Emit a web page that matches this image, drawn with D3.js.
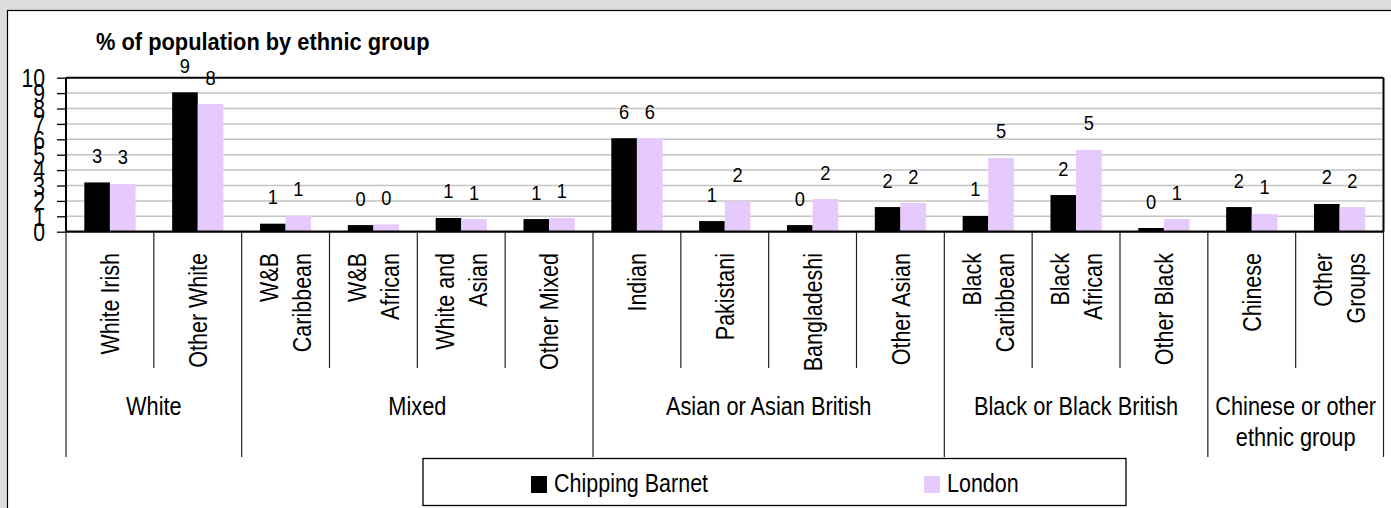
<!DOCTYPE html>
<html>
<head>
<meta charset="utf-8">
<script src="https://cdn.jsdelivr.net/npm/d3@7"></script>
<style>
  html, body { margin: 0; padding: 0; background: #dcdcdc; }
  svg { display: block; }
  text { font-family: "Liberation Sans", Arial, sans-serif; fill: #000; }
</style>
</head>
<body>
<svg id="chart" width="1391" height="508"></svg>
<script>
// ---- data ----
const categories = ["White Irish", "Other White", "W&B Caribbean", "W&B African", "White and Asian",
  "Other Mixed", "Indian", "Pakistani", "Bangladeshi", "Other Asian",
  "Black Caribbean", "Black African", "Other Black", "Chinese", "Other Groups"];
const categoryLines = [["White Irish"], ["Other White"], ["W&B", "Caribbean"], ["W&B", "African"], ["White and", "Asian"],
  ["Other Mixed"], ["Indian"], ["Pakistani"], ["Bangladeshi"], ["Other Asian"],
  ["Black", "Caribbean"], ["Black", "African"], ["Other Black"], ["Chinese"], ["Other", "Groups"]];
const groupNames = [["White"], ["Mixed"], ["Asian or Asian British"], ["Black or Black British"], ["Chinese or other", "ethnic group"]];
const groupSizes = [2, 4, 4, 3, 2];
const seriesNames = ["Chipping Barnet", "London"];
const chippingBarnet = [3.2, 9.05, 0.52, 0.43, 0.89, 0.82, 6.07, 0.69, 0.43, 1.6, 1.02, 2.38, 0.24, 1.6, 1.8];
const london = [3.1, 8.29, 1.02, 0.48, 0.82, 0.89, 6.07, 1.97, 2.12, 1.86, 4.79, 5.31, 0.82, 1.15, 1.6];
const yTicks = [0, 1, 2, 3, 4, 5, 6, 7, 8, 9, 10];
const titleText = "% of population by ethnic group";

const colors = ["#000000", "#e6c9fd"];
const seriesValues = [chippingBarnet, london];

// ---- layout ----
const SX = 0.87; // horizontal condensation of horizontal text
const RX = 1.22; // thickness stretch of rotated text
const svg = d3.select("#chart");
const plot = { left: 66, right: 1383.5, top: 77.7, bottom: 231.7 };

svg.append("rect").attr("x", 7.5).attr("y", 10.5).attr("width", 1400).attr("height", 520)
  .attr("fill", "#fff").attr("stroke", "#000").attr("stroke-width", 1.2);

const x0 = d3.scaleBand().domain(categories).range([plot.left, plot.right]).paddingInner(0).paddingOuter(0);
const x1 = d3.scaleBand().domain(seriesNames).range([0, x0.bandwidth()]).paddingInner(0).paddingOuter(0.715);
const y = d3.scaleLinear().domain([0, 10]).range([plot.bottom, plot.top]);

// gridlines
svg.append("g").selectAll("line").data(yTicks.filter(t => t > 0 && t < 10)).join("line")
  .attr("x1", plot.left).attr("x2", plot.right)
  .attr("y1", d => y(d)).attr("y2", d => y(d))
  .attr("stroke", "#c4c4c4").attr("stroke-width", 1.5);

// bars
const rows = categories.map((c, i) => ({ c, vals: seriesNames.map((s, j) => ({ s, j, v: seriesValues[j][i] })) }));
const gCat = svg.append("g").selectAll("g").data(rows).join("g")
  .attr("transform", d => `translate(${x0(d.c)},0)`);
gCat.selectAll("rect").data(d => d.vals).join("rect")
  .attr("x", d => x1(d.s)).attr("width", x1.bandwidth())
  .attr("y", d => y(d.v)).attr("height", d => y(0) - y(d.v))
  .attr("fill", d => colors[d.j]);
const fmt = d3.format(".0f");
gCat.selectAll("text").data(d => d.vals).join("text")
  .attr("transform", d => `translate(${x1(d.s) + x1.bandwidth() / 2},${y(d.v) - 19.5}) scale(${SX},1)`)
  .attr("text-anchor", "middle")
  .style("font-size", "21px")
  .text(d => fmt(d.v));

// plot frame: top + right
svg.append("line").attr("x1", plot.left).attr("x2", plot.right).attr("y1", plot.top).attr("y2", plot.top)
  .attr("stroke", "#000").attr("stroke-width", 2);
svg.append("line").attr("x1", plot.right).attr("x2", plot.right).attr("y1", plot.top).attr("y2", plot.bottom)
  .attr("stroke", "#000").attr("stroke-width", 2);

// y axis
const yAxis = d3.axisLeft(y).tickValues(yTicks).tickSize(9).tickPadding(12).tickFormat(d3.format("d"));
const gy = svg.append("g").attr("transform", `translate(${plot.left},0)`).call(yAxis);
gy.select(".domain").remove();
gy.selectAll(".tick line").attr("stroke", "#000").attr("stroke-width", 1.3);
gy.selectAll(".tick text").style("font-size", "25px").attr("font-family", null)
  .attr("x", -21 / 0.85).attr("dy", "0.35em").attr("transform", "scale(0.85,1)");
svg.append("line").attr("x1", plot.left).attr("x2", plot.left).attr("y1", plot.top).attr("y2", plot.bottom)
  .attr("stroke", "#000").attr("stroke-width", 2);

// x axis baseline
svg.append("line").attr("x1", plot.left).attr("x2", plot.right).attr("y1", plot.bottom).attr("y2", plot.bottom)
  .attr("stroke", "#000").attr("stroke-width", 2.2);

// category dividers
const bounds = categories.map(c => x0(c)).concat([plot.right]);
let groupStarts = [0];
groupSizes.forEach((n, i) => groupStarts.push(groupStarts[i] + n));
svg.append("g").selectAll("line").data(bounds.map((b, i) => ({ b, i }))).join("line")
  .attr("x1", d => d.b).attr("x2", d => d.b)
  .attr("y1", plot.bottom)
  .attr("y2", d => groupStarts.includes(d.i) ? 457 : 368)
  .attr("stroke", "#222").attr("stroke-width", 1.2);

// category labels (rotated)
const catLab = svg.append("g").selectAll("g").data(rows.map((r, i) => ({ c: r.c, lines: categoryLines[i] }))).join("g")
  .attr("transform", d => `translate(${x0(d.c) + x0.bandwidth() / 2},253)`);
catLab.each(function (d) {
  const n = d.lines.length;
  d3.select(this).selectAll("text").data(d.lines).join("text")
    .attr("transform", (l, k) => `translate(${(k - (n - 1) / 2) * 33},0) scale(${RX},1) rotate(-90)`)
    .attr("text-anchor", "end")
    .attr("dy", "0.35em")
    .style("font-size", "21.5px")
    .text(l => l);
});

// group labels
svg.append("g").selectAll("g").data(groupNames.map((g, i) => ({ g, i }))).join("g")
  .attr("transform", d => {
    const a = bounds[groupStarts[d.i]], b = bounds[groupStarts[d.i + 1]];
    return `translate(${(a + b) / 2},415)`;
  })
  .each(function (d) {
    d3.select(this).selectAll("text").data(d.g).join("text")
      .attr("transform", (l, k) => `translate(0,${k * 31}) scale(${SX},1)`)
      .attr("text-anchor", "middle")
      .style("font-size", "25px")
      .text(l => l);
  });

// title
svg.append("text").attr("transform", "translate(96,50) scale(0.91,1)")
  .style("font-size", "24px").style("font-weight", "bold")
  .text(titleText);

// legend
const lg = svg.append("g");
lg.append("rect").attr("x", 423).attr("y", 458.5).attr("width", 703).attr("height", 47)
  .attr("fill", "#fff").attr("stroke", "#000").attr("stroke-width", 1.3);
const legendX = [531, 924];
const li = lg.selectAll("g").data(seriesNames.map((s, j) => ({ s, j }))).join("g")
  .attr("transform", d => `translate(${legendX[d.j]},0)`);
li.append("rect").attr("x", 0).attr("y", 476).attr("width", 16).attr("height", 17)
  .attr("fill", d => colors[d.j]);
li.append("text").attr("transform", "translate(23,492) scale(0.86,1)").style("font-size", "25px").text(d => d.s);
</script>
</body>
</html>
